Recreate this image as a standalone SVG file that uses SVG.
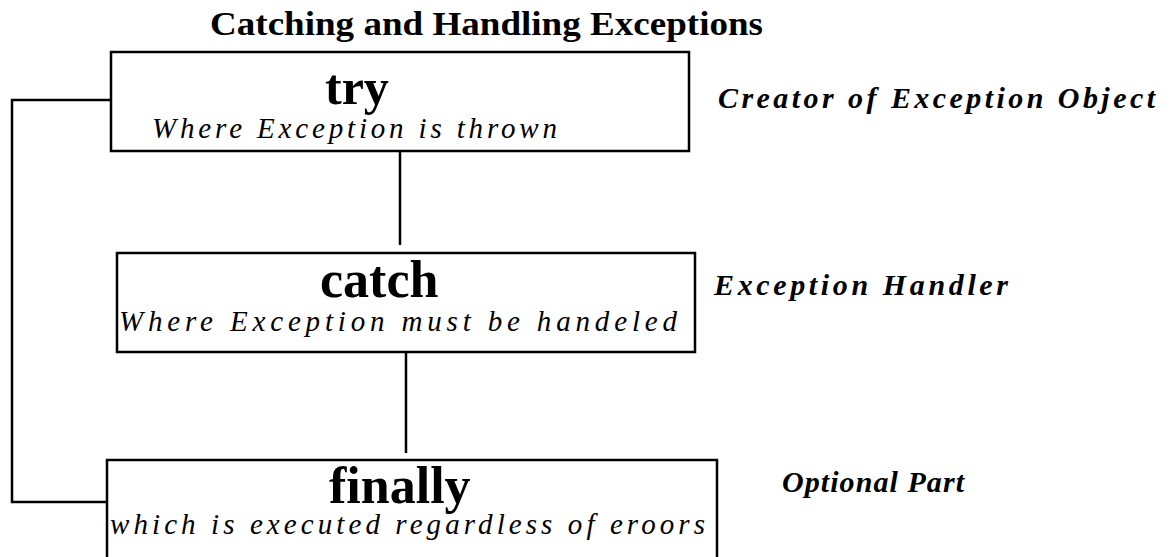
<svg xmlns="http://www.w3.org/2000/svg" width="1176" height="557" viewBox="0 0 1176 557">
<style>
.box{fill:#fff;stroke:#000;stroke-width:2.5}
.ln{fill:none;stroke:#000;stroke-width:2.5}
.title{font-family:"Liberation Serif","Times New Roman",serif;font-weight:bold;font-size:34px;fill:#000}
.head{font-family:"Liberation Serif","Times New Roman",serif;font-weight:bold;fill:#000}
.sub{font-family:"Liberation Serif","Times New Roman",serif;font-style:italic;font-size:29px;fill:#000}
.note{font-family:"Liberation Serif","Times New Roman",serif;font-style:italic;font-weight:bold;font-size:30px;fill:#000}
</style>
<rect width="1176" height="557" fill="#fff"/>
<text class="title" x="210" y="35" textLength="553" lengthAdjust="spacingAndGlyphs">Catching and Handling Exceptions</text>
<g id="connectors">
<path class="ln" d="M111,100 H12 V502 H115"/>
<line class="ln" x1="400" y1="151" x2="400" y2="245"/>
<line class="ln" x1="406" y1="352" x2="406" y2="453"/>
<line class="ln" x1="414" y1="343" x2="414" y2="352"/>
</g>
<g id="node-try">
<rect class="box" x="111" y="52" width="578" height="99"/>
<text class="head" x="325" y="104" font-size="50">try</text>
<text class="sub" x="152" y="138" textLength="405" lengthAdjust="spacing">Where Exception is thrown</text>
</g>
<g id="node-catch">
<rect class="box" x="117" y="253" width="578" height="99"/>
<text class="head" x="320" y="297" font-size="52">catch</text>
<text class="sub" x="119" y="331" textLength="558" lengthAdjust="spacing">Where Exception must be handeled</text>
</g>
<g id="node-finally">
<rect class="box" x="107" y="460" width="610" height="130"/>
<text class="head" x="329" y="503" font-size="52">finally</text>
<text class="sub" x="110" y="534" textLength="595" lengthAdjust="spacing">which is executed regardless of eroors</text>
</g>
<g id="labels">
<text class="note" x="718" y="108" textLength="437" lengthAdjust="spacing">Creator of Exception Object</text>
<text class="note" x="714" y="295" textLength="294" lengthAdjust="spacing">Exception Handler</text>
<text class="note" x="782" y="492" textLength="182" lengthAdjust="spacing">Optional Part</text>
</g>
</svg>
